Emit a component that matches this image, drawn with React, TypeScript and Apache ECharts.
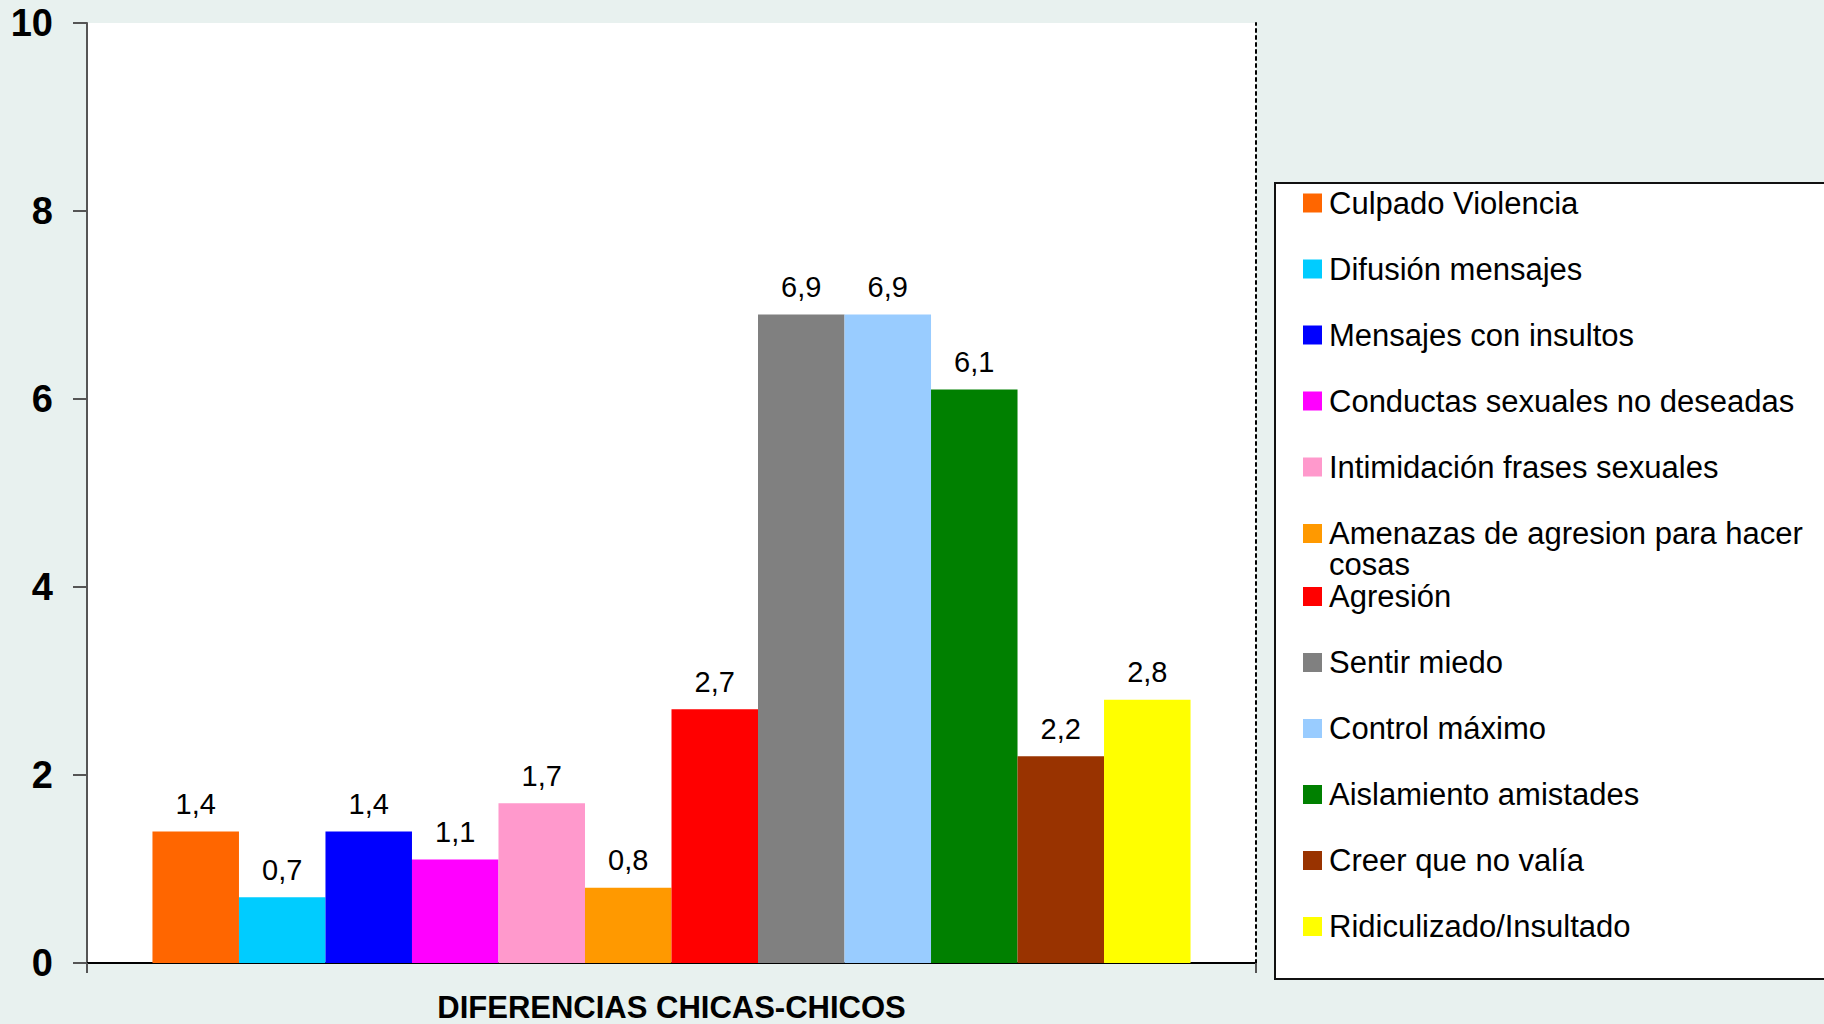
import React, { useEffect, useRef } from 'react';
import * as echarts from 'echarts';

const categories = ['DIFERENCIAS CHICAS-CHICOS'];
const seriesNames = [
  'Culpado Violencia',
  'Difusión mensajes',
  'Mensajes con insultos',
  'Conductas sexuales no deseadas',
  'Intimidación frases sexuales',
  'Amenazas de agresion para hacer cosas',
  'Agresión',
  'Sentir miedo',
  'Control máximo',
  'Aislamiento amistades',
  'Creer que no valía',
  'Ridiculizado/Insultado',
];
const seriesValues = [1.4, 0.7, 1.4, 1.1, 1.7, 0.8, 2.7, 6.9, 6.9, 6.1, 2.2, 2.8];
const seriesColors = [
  '#FF6600', '#00CCFF', '#0000FF', '#FF00FF', '#FF99CC', '#FF9900',
  '#FF0000', '#808080', '#99CCFF', '#008000', '#993300', '#FFFF00',
];
const yMin = 0;
const yMax = 10;
const yInterval = 2;

const FONT = 'Liberation Sans, Arial, sans-serif';

export default function App() {
  const ref = useRef<HTMLDivElement>(null);

  useEffect(() => {
    if (!ref.current) return;
    const chart = echarts.init(ref.current, undefined, { renderer: 'svg' });

    const legendText = {
      fontSize: 31,
      fontFamily: FONT,
      color: '#000',
      lineHeight: 34,
      padding: [0, 0, 0, 2],
    };
    const legendBase = {
      orient: 'vertical',
      left: 1303,
      itemGap: 32,
      itemWidth: 19,
      itemHeight: 19,
      icon: 'rect',
      padding: 0,
      selectedMode: false,
      textStyle: legendText,
    };

    const series = seriesNames.map((name, i) => ({
      name,
      type: 'bar',
      data: [seriesValues[i]],
      itemStyle: { color: seriesColors[i] },
      barGap: '0%',
      barCategoryGap: '11.2%',
      label: {
        show: true,
        position: 'top',
        distance: 13,
        fontSize: 29,
        fontFamily: FONT,
        color: '#000',
        formatter: (p: any) => String(p.value).replace('.', ','),
      },
    }));

    chart.setOption({
      animation: false,
      backgroundColor: '#e8f1ef',
      grid: {
        left: 87,
        top: 23,
        right: 568,
        bottom: 61,
        show: true,
        backgroundColor: '#ffffff',
        borderWidth: 0,
        containLabel: false,
      },
      xAxis: {
        type: 'category',
        data: categories,
        axisLine: { show: true, lineStyle: { color: '#000', width: 2 } },
        axisTick: { show: true, length: 10, lineStyle: { color: '#555', width: 2 } },
        axisLabel: {
          margin: 29,
          fontSize: 31,
          fontWeight: 'bold',
          fontFamily: FONT,
          color: '#000',
        },
      },
      yAxis: [
        {
          type: 'value',
          min: yMin,
          max: yMax,
          interval: yInterval,
          axisLine: { show: true, lineStyle: { color: '#555', width: 2 } },
          axisTick: { show: true, length: 14, lineStyle: { color: '#555', width: 2 } },
          splitLine: { show: false },
          axisLabel: {
            margin: 34,
            fontSize: 38,
            fontWeight: 'bold',
            fontFamily: FONT,
            color: '#000',
          },
        },
        {
          type: 'value',
          min: yMin,
          max: yMax,
          interval: yInterval,
          position: 'right',
          axisLine: { show: true, lineStyle: { color: '#000', width: 2, type: [3, 4] } },
          axisTick: { show: false },
          axisLabel: { show: false },
          splitLine: { show: false },
        },
      ],
      legend: [
        { ...legendBase, data: seriesNames.slice(0, 5), top: 186 },
        {
          ...legendBase,
          data: seriesNames.slice(5, 6),
          top: 487,
          textStyle: { ...legendText, lineHeight: 31 },
          formatter: (name: string) => '\n' + name.replace(' cosas', '\ncosas'),
        },
        { ...legendBase, data: seriesNames.slice(6), top: 579.5 },
      ],
      graphic: {
        elements: [
          {
            type: 'rect',
            silent: true,
            z: 0,
            shape: { x: 1275, y: 183, width: 620, height: 796 },
            style: { fill: '#ffffff', stroke: '#111', lineWidth: 2 },
          },
        ],
      },
      series,
    });

    return () => chart.dispose();
  }, []);

  return (
    <div
      ref={ref}
      style={{ position: 'fixed', left: 0, top: 0, width: 1824, height: 1024 }}
    />
  );
}
